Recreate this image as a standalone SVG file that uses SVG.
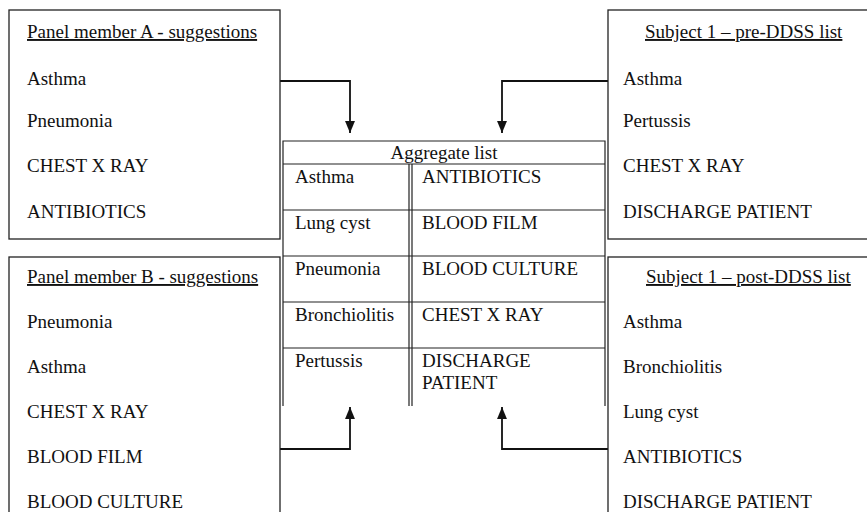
<svg xmlns="http://www.w3.org/2000/svg" width="867" height="512" viewBox="0 0 867 512">
<style>
.box{fill:#fff;stroke:#222;stroke-width:1.3}
.t{font-family:"Liberation Serif","Times New Roman",serif;font-size:19px;fill:#111}
.u{text-decoration:underline}
.ln{stroke:#222;stroke-width:1.2;fill:none}
.c{stroke:#111;stroke-width:1.8;fill:none}
</style>
<defs>
<marker id="ah" viewBox="0 0 12 10" refX="12" refY="5" markerWidth="6.6" markerHeight="6" markerUnits="strokeWidth" orient="auto">
<path d="M0,0 L12,5 L0,10 z" fill="#111"/>
</marker>
</defs>
<rect width="867" height="512" fill="#fff"/>
<g id="connectors">
<path class="c" d="M280,81 H350 V133" marker-end="url(#ah)"/>
<path class="c" d="M608,81 H502 V133" marker-end="url(#ah)"/>
<path class="c" d="M280,449 H350 V407" marker-end="url(#ah)"/>
<path class="c" d="M608,449 H502 V407" marker-end="url(#ah)"/>
</g>
<g id="panelA">
<rect class="box" x="9" y="10" width="271" height="229"/>
<text class="t u" x="27" y="38">Panel member A - suggestions</text>
<text class="t" x="27" y="85">Asthma</text>
<text class="t" x="27" y="127">Pneumonia</text>
<text class="t" x="27" y="172">CHEST X RAY</text>
<text class="t" x="27" y="218">ANTIBIOTICS</text>
</g>
<g id="preDDSS">
<rect class="box" x="608" y="10" width="270" height="229"/>
<text class="t u" x="645" y="38">Subject 1 – pre-DDSS list</text>
<text class="t" x="623" y="85">Asthma</text>
<text class="t" x="623" y="127">Pertussis</text>
<text class="t" x="623" y="172">CHEST X RAY</text>
<text class="t" x="623" y="218">DISCHARGE PATIENT</text>
</g>
<g id="panelB">
<rect class="box" x="9" y="257" width="271" height="270"/>
<text class="t u" x="27" y="283">Panel member B - suggestions</text>
<text class="t" x="27" y="328">Pneumonia</text>
<text class="t" x="27" y="373">Asthma</text>
<text class="t" x="27" y="418">CHEST X RAY</text>
<text class="t" x="27" y="463">BLOOD FILM</text>
<text class="t" x="27" y="508">BLOOD CULTURE</text>
</g>
<g id="postDDSS">
<rect class="box" x="608" y="257" width="270" height="270"/>
<text class="t u" x="646" y="283">Subject 1 – post-DDSS list</text>
<text class="t" x="623" y="328">Asthma</text>
<text class="t" x="623" y="373">Bronchiolitis</text>
<text class="t" x="623" y="418">Lung cyst</text>
<text class="t" x="623" y="463">ANTIBIOTICS</text>
<text class="t" x="623" y="508">DISCHARGE PATIENT</text>
</g>
<g id="aggregate">
<path class="ln" d="M283,406 V141 H605 V406 M283,164 H605 M283,210 H605 M283,256 H605 M283,302 H605 M283,348 H605 M409,164 V406 M412,164 V406"/>
<text class="t" x="444" y="159" text-anchor="middle">Aggregate list</text>
<text class="t" x="295" y="183">Asthma</text>
<text class="t" x="295" y="229">Lung cyst</text>
<text class="t" x="295" y="275">Pneumonia</text>
<text class="t" x="295" y="321">Bronchiolitis</text>
<text class="t" x="295" y="367">Pertussis</text>
<text class="t" x="422" y="183">ANTIBIOTICS</text>
<text class="t" x="422" y="229">BLOOD FILM</text>
<text class="t" x="422" y="275">BLOOD CULTURE</text>
<text class="t" x="422" y="321">CHEST X RAY</text>
<text class="t" x="422" y="367">DISCHARGE</text>
<text class="t" x="422" y="389">PATIENT</text>
</g>
</svg>
